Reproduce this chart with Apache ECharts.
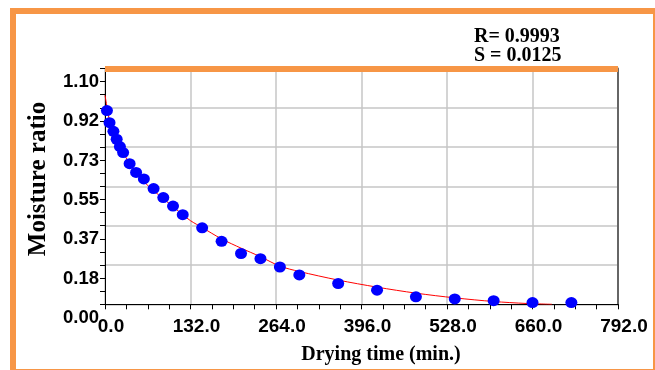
<!DOCTYPE html>
<html>
<head>
<meta charset="utf-8">
<script src="https://cdn.jsdelivr.net/npm/echarts@6/dist/echarts.min.js"></script>
<style>
html,body{margin:0;padding:0;background:#fff;}
#chart{width:655px;height:370px;}
</style>
</head>
<body>
<div id="chart"></div>
<script>
// Observed drying data
var dryTime = [3, 7, 13, 18, 23, 28, 38, 48, 60, 75, 90, 105, 120, 150, 180, 210, 240, 270, 300, 360, 420, 480, 540, 600, 660, 720];
var moistureRatio = [0.904, 0.847, 0.807, 0.770, 0.736, 0.708, 0.656, 0.615, 0.585, 0.540, 0.498, 0.458, 0.418, 0.357, 0.294, 0.237, 0.213, 0.174, 0.137, 0.097, 0.066, 0.035, 0.025, 0.017, 0.008, 0.008];
// Fitted model curve
var fitTime = [0, 4, 7, 13, 18, 23, 28, 38, 48, 60, 75, 90, 105, 120, 132, 150, 180, 210, 240, 270, 300, 360, 420, 480, 540, 600, 650, 690];
var fitMR = [0.975, 0.905, 0.855, 0.805, 0.770, 0.737, 0.708, 0.656, 0.612, 0.572, 0.530, 0.493, 0.455, 0.418, 0.390, 0.358, 0.305, 0.262, 0.222, 0.178, 0.153, 0.113, 0.080, 0.052, 0.030, 0.013, 0.004, 0.0];
// Tick labels
var xTickLabels = ['0.0', '132.0', '264.0', '396.0', '528.0', '660.0', '792.0'];
var yTickLabels = ['0.00', '0.18', '0.37', '0.55', '0.73', '0.92', '1.10'];
var xStep = 132, yStep = 1.1 / 6;
var statText = ['R= 0.9993', 'S = 0.0125'];
var xTitle = 'Drying time (min.)';
var yTitle = 'Moisture ratio';

var orange = '#F79646';
var chart = echarts.init(document.getElementById('chart'), null, {renderer: 'canvas'});
var pts = dryTime.map(function (t, i) { return [t, moistureRatio[i]]; });
var fit = fitTime.map(function (t, i) { return [t, fitMR[i]]; });

chart.setOption({
  animation: false,
  backgroundColor: '#fff',
  grid: {left: 105, right: 37, top: 68.5, bottom: 65.7, containLabel: false},
  xAxis: [{
    type: 'value', min: 0, max: 792, interval: xStep, position: 'bottom',
    axisLine: {show: true, onZero: false, lineStyle: {color: '#000', width: 1}},
    axisTick: {show: true, length: 5, lineStyle: {color: '#000'}},
    minorTick: {show: true, splitNumber: 4, length: 5, lineStyle: {color: '#000'}},
    splitLine: {show: true, lineStyle: {color: '#c6c6c6', width: 1.5}},
    axisLabel: {
      margin: 13, color: '#000',
      formatter: function (v) { return '{a|' + xTickLabels[Math.round(v / xStep)] + '}'; },
      rich: {a: {fontFamily: 'Liberation Sans, Arial', fontWeight: 'bold', fontSize: 19, color: '#000', padding: [0, 0, 0, 12]}}
    }
  }, {
    type: 'value', min: 0, max: 792, position: 'top',
    axisLine: {show: true, onZero: false, lineStyle: {color: orange, width: 6, cap: 'butt'}},
    axisTick: {show: false}, axisLabel: {show: false}, splitLine: {show: false}
  }],
  yAxis: [{
    type: 'value', min: 0, max: 1.1, interval: yStep, position: 'left',
    axisLine: {show: true, onZero: false, lineStyle: {color: '#000', width: 1}},
    axisTick: {show: true, length: 5, lineStyle: {color: '#000'}},
    minorTick: {show: true, splitNumber: 3, length: 5, lineStyle: {color: '#000'}},
    splitLine: {show: true, lineStyle: {color: '#c6c6c6', width: 1.5}},
    axisLabel: {
      margin: 6, color: '#000',
      formatter: function (v) { return '{a|' + yTickLabels[Math.round(v / yStep)] + '}'; },
      rich: {a: {fontFamily: 'Liberation Sans, Arial', fontWeight: 'bold', fontSize: 18.5, color: '#000', padding: [27, 0, 0, 0]}}
    }
  }, {
    type: 'value', min: 0, max: 1.1, position: 'right',
    axisLine: {show: true, onZero: false, lineStyle: {color: '#666', width: 2}},
    axisTick: {show: false}, axisLabel: {show: false}, splitLine: {show: false}
  }],
  series: [{
    type: 'line', data: fit, smooth: 0.3, showSymbol: false, symbol: 'none',
    lineStyle: {color: '#ff0000', width: 1}, z: 3
  }, {
    type: 'scatter', data: pts, symbol: 'circle', symbolSize: [12, 11],
    itemStyle: {color: '#0000ff', opacity: 1}, z: 4
  }],
  graphic: [{
    type: 'rect', left: 10, top: 8, z: 100,
    shape: {x: 0, y: 0, width: 643, height: 361},
    style: {fill: 'none', stroke: orange, lineWidth: 6}
  }, {
    type: 'text', x: 474, y: 36.5, z: 100,
    style: {text: statText[0], fill: '#000', font: 'bold 20px "Liberation Serif", "Times New Roman", serif', align: 'left', verticalAlign: 'middle'}
  }, {
    type: 'text', x: 474, y: 56, z: 100,
    style: {text: statText[1], fill: '#000', font: 'bold 20px "Liberation Serif", "Times New Roman", serif', align: 'left', verticalAlign: 'middle'}
  }, {
    type: 'text', x: 381, y: 355, z: 100,
    style: {text: xTitle, fill: '#000', font: 'bold 20px "Liberation Serif", "Times New Roman", serif', align: 'center', verticalAlign: 'middle'}
  }, {
    type: 'text', x: 39, y: 179, rotation: Math.PI / 2, z: 100,
    style: {text: yTitle, fill: '#000', font: 'bold 25px "Liberation Serif", "Times New Roman", serif', align: 'center', verticalAlign: 'middle'}
  }]
});
</script>
</body>
</html>
